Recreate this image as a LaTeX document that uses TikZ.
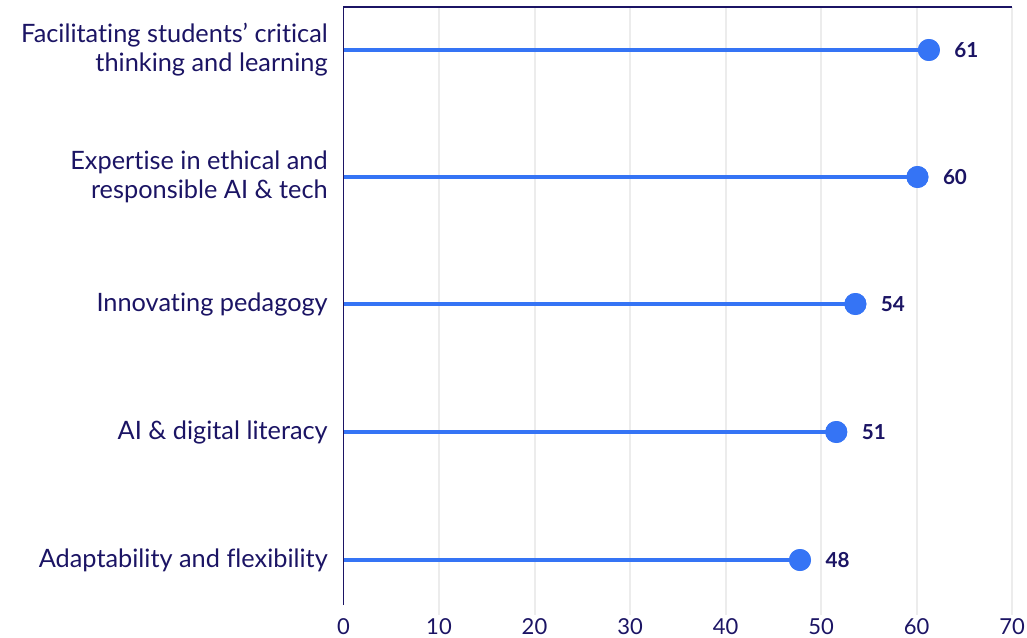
\documentclass[tikz,border=0pt]{standalone}
\usepackage{fontspec}
\setmainfont{Lato}[Ligatures=NoCommon]
\usetikzlibrary{positioning}
\definecolor{navy}{HTML}{1B1464}
\definecolor{lollipop}{HTML}{3574F5}
\definecolor{gridgray}{HTML}{ECECEC}

\begin{document}
\begin{tikzpicture}[x=0.75pt, y=-0.75pt,
    dot/.style={circle, fill=lollipop, inner sep=0pt, minimum size=16.5pt},
    stem/.style={lollipop, line width=2.6pt},
    value/.style={font=\fontsize{15.5}{18}\selectfont\bfseries, text=navy, inner sep=0pt},
    category/.style={font=\fontsize{19}{21.75}\selectfont, text=navy, align=right, anchor=east, inner sep=0pt},
    tick/.style={font=\fontsize{16.5}{20}\selectfont, text=navy, inner sep=0pt, anchor=base}]
  \useasboundingbox (0,0) rectangle (1027,638);

  % grid and axis
  \foreach \v in {10,20,...,70}
    \draw[gridgray, line width=1.5pt] ({343.5+9.55*\v},7) -- ({343.5+9.55*\v},615);
  \foreach \v in {0,10,...,70}
    \node[tick] at ({343.5+9.55*\v},634.5) {\v};
  \draw[navy, line width=1.3pt] (343.5,605) -- (343.5,7) -- (1012,7);

  % category labels
  \node[category] (c1) at (328,50) {Facilitating students’ critical\\thinking and learning};
  \node[category] (c2) at (328,177) {Expertise in ethical and\\responsible AI \& tech};
  \node[category] (c3) at (328,304) {Innovating pedagogy};
  \node[category] (c4) at (328,432) {AI \& digital literacy};
  \node[category] (c5) at (328,560) {Adaptability and flexibility};

  % stems start at the axis
  \coordinate (s1) at (343.5,50);
  \coordinate (s2) at (343.5,177);
  \coordinate (s3) at (343.5,304);
  \coordinate (s4) at (343.5,432);
  \coordinate (s5) at (343.5,560);

  \node[dot] (d1) at ({343.5+9.55*61.3},50) {};
  \node[dot] (d2) at ({343.5+9.55*60.1},177) {};
  \node[dot] (d3) at ({343.5+9.55*53.6},304) {};
  \node[dot] (d4) at ({343.5+9.55*51.6},432) {};
  \node[dot] (d5) at ({343.5+9.55*47.8},560) {};

  \draw[stem] (s1) -- (d1.center);
  \draw[stem] (s2) -- (d2.center);
  \draw[stem] (s3) -- (d3.center);
  \draw[stem] (s4) -- (d4.center);
  \draw[stem] (s5) -- (d5.center);
  \node[dot] at (d1) {};
  \node[dot] at (d2) {};
  \node[dot] at (d3) {};
  \node[dot] at (d4) {};
  \node[dot] at (d5) {};

  \node[value, right=10.5pt of d1] (v1) {61};
  \node[value, right=10.5pt of d2] (v2) {60};
  \node[value, right=10.5pt of d3] (v3) {54};
  \node[value, right=10.5pt of d4] (v4) {51};
  \node[value, right=10.5pt of d5] (v5) {48};
\end{tikzpicture}
\end{document}
